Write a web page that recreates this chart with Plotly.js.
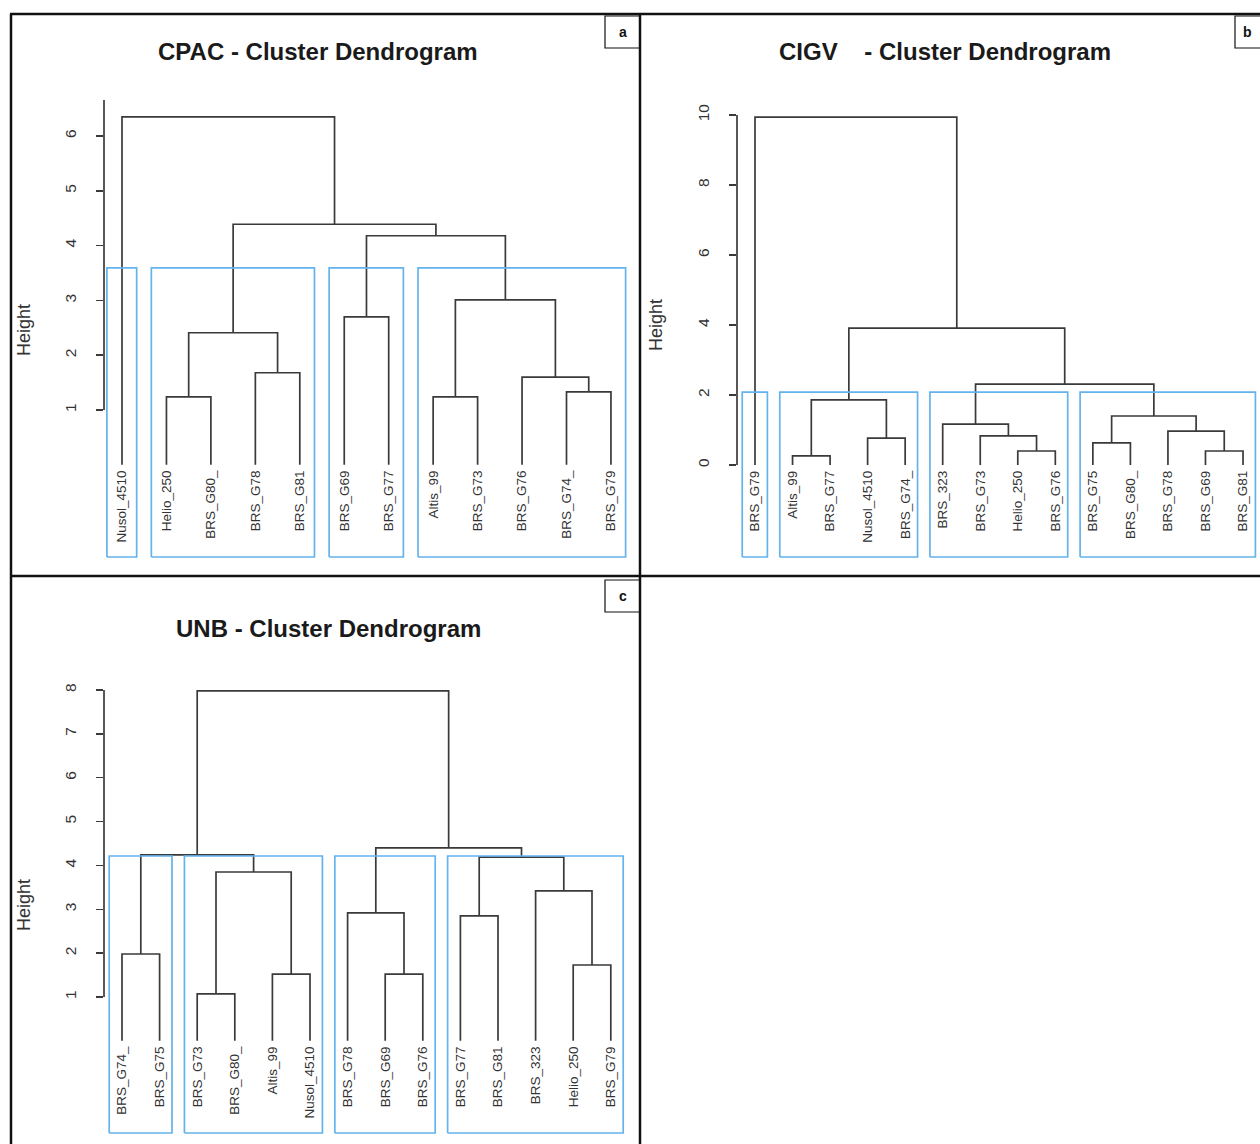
<!DOCTYPE html>
<html><head><meta charset="utf-8">
<script src="https://cdn.plot.ly/plotly-3.0.1.min.js"></script>
<style>html,body{margin:0;padding:0;background:#fff}</style>
</head><body><div id="chart" style="width:1260px;height:1144px"></div>
<script>
// ---------- DATA ----------
const cpacLabels = ["Nusol_4510","Helio_250","BRS_G80_","BRS_G78","BRS_G81","BRS_G69","BRS_G77","Altis_99","BRS_G73","BRS_G76","BRS_G74_","BRS_G79"];
const cpacMerge = [[-2,-3],[-8,-9],[-11,-12],[-10,3],[-4,-5],[1,5],[-6,-7],[2,4],[7,8],[6,9],[-1,10]];
const cpacHeights = [1.24,1.24,1.33,1.60,1.68,2.41,2.70,3.01,4.18,4.39,6.35];
const cpacTicks = [1,2,3,4,5,6];

const cigvLabels = ["BRS_G79","Altis_99","BRS_G77","Nusol_4510","BRS_G74_","BRS_323","BRS_G73","Helio_250","BRS_G76","BRS_G75","BRS_G80_","BRS_G78","BRS_G69","BRS_G81"];
const cigvMerge = [[-2,-3],[-8,-9],[-13,-14],[-10,-11],[-4,-5],[-7,2],[-12,3],[-6,6],[4,7],[1,5],[8,9],[10,11],[-1,12]];
const cigvHeights = [0.26,0.40,0.40,0.63,0.77,0.83,0.97,1.17,1.40,1.86,2.31,3.91,9.94];
const cigvTicks = [0,2,4,6,8,10];

const unbLabels = ["BRS_G74_","BRS_G75","BRS_G73","BRS_G80_","Altis_99","Nusol_4510","BRS_G78","BRS_G69","BRS_G76","BRS_G77","BRS_G81","BRS_323","Helio_250","BRS_G79"];
const unbMerge = [[-3,-4],[-5,-6],[-8,-9],[-13,-14],[-1,-2],[-10,-11],[-7,3],[-12,4],[1,2],[6,8],[5,9],[7,10],[11,12]];
const unbHeights = [1.07,1.52,1.52,1.73,1.98,2.85,2.92,3.42,3.85,4.19,4.24,4.40,7.98];
const unbTicks = [1,2,3,4,5,6,7,8];

const panelTitles = ["CPAC - Cluster Dendrogram","CIGV\u00a0\u00a0\u00a0\u00a0- Cluster Dendrogram","UNB - Cluster Dendrogram"];
const panelLetters = ["a","b","c"];
const axisTitle = "Height";
const clusterCount = 4;

// ---------- GEOMETRY (pixels) ----------
const W = 1260, H = 1144;
const panels = [
  {labels:cpacLabels, merge:cpacMerge, heights:cpacHeights, ticks:cpacTicks,
   g:{l:104, r:632, t:95, b:560, leaf0:122, dx:44.45, ya:[1,410], yb:[6,136], boxBottom:557, axisTop:100,
      title:[318,52], htitle:[24,330], letterBox:[605,640,16,48]}},
  {labels:cigvLabels, merge:cigvMerge, heights:cigvHeights, ticks:cigvTicks,
   g:{l:737, r:1260, t:95, b:560, leaf0:755, dx:37.54, ya:[0,465], yb:[10,115], boxBottom:557, axisTop:115,
      title:[945,52], htitle:[656,325], letterBox:[1235,1262,16,48]}},
  {labels:unbLabels, merge:unbMerge, heights:unbHeights, ticks:unbTicks,
   g:{l:104, r:632, t:660, b:1138, leaf0:122, dx:37.6, ya:[1,997], yb:[8,690], boxBottom:1133, axisTop:690,
      title:[328,628], htitle:[24,905], letterBox:[605,640,580,612]}}
];

const lineCol = '#3a3a3a', boxCol = '#63b3ec';
const traces = [], shapes = [], annotations = [];
const layout = {
  width:W, height:H, autosize:false, showlegend:false,
  margin:{l:0,r:0,t:0,b:0}, paper_bgcolor:'#fff', plot_bgcolor:'rgba(0,0,0,0)',
  font:{family:'Arial, Liberation Sans, sans-serif', color:'#222'}
};

panels.forEach((p, idx) => {
  const g = p.g, sfx = idx === 0 ? '' : String(idx + 1);
  const xa = 'x' + sfx, ya = 'y' + sfx;
  const ppv = (g.ya[1] - g.yb[1]) / (g.yb[0] - g.ya[0]);
  const val = px => g.ya[0] + (g.ya[1] - px) / ppv;
  const pxOf = v => g.ya[1] - (v - g.ya[0]) * ppv;

  // dendrogram nodes
  const nodes = [];
  const get = c => c < 0 ? {x: -c - 1, y: 0, lo: -c - 1, hi: -c - 1} : nodes[c - 1];
  const dx = [], dy = [];
  p.merge.forEach((m, i) => {
    const a = get(m[0]), b = get(m[1]), h = p.heights[i];
    dx.push(a.x, a.x, b.x, b.x, null);
    dy.push(a.y, h, h, b.y, null);
    nodes.push({x:(a.x + b.x) / 2, y:h, lo:Math.min(a.lo,b.lo), hi:Math.max(a.hi,b.hi), kids:m, idx:i});
  });
  traces.push({type:'scatter', mode:'lines', x:dx, y:dy, xaxis:xa, yaxis:ya,
    line:{color:lineCol, width:1.7}, hoverinfo:'skip'});

  // rect.hclust style boxes
  const nM = p.merge.length;
  const desc = p.heights.slice().sort((a,b) => b - a);
  const top = (desc[clusterCount - 2] + desc[clusterCount - 1]) / 2;
  const clusters = [];
  const walk = c => {
    const n = get(c);
    if (c > 0 && n.idx >= nM - (clusterCount - 1)) { walk(n.kids[0]); walk(n.kids[1]); }
    else clusters.push([n.lo, n.hi]);
  };
  walk(nM);
  clusters.sort((a,b) => a[0] - b[0]);
  const bx = [], by = [], bottom = val(g.boxBottom);
  clusters.forEach(c => {
    const x0 = c[0] - 0.34, x1 = c[1] + 0.33;
    bx.push(x0, x0, x1, x1, x0, null);
    by.push(bottom, top, top, bottom, bottom, null);
  });
  traces.push({type:'scatter', mode:'lines', x:bx, y:by, xaxis:xa, yaxis:ya,
    line:{color:boxCol, width:1.7}, hoverinfo:'skip'});

  // axes
  const n = p.labels.length;
  layout['xaxis' + sfx] = {
    domain:[g.l / W, g.r / W], range:[(g.l - g.leaf0) / g.dx, (g.r - g.leaf0) / g.dx],
    anchor:'free', position: 1 - (pxOf(0) + 2) / H,
    tickvals:[...Array(n).keys()], ticktext:p.labels, tickangle:-90, ticks:'',
    tickfont:{size:13.5, color:'#333'}, showgrid:false, zeroline:false, showline:false, fixedrange:true
  };
  layout['yaxis' + sfx] = {
    domain:[1 - g.b / H, 1 - g.t / H], range:[val(g.b), val(g.t)], anchor:xa,
    tickvals:p.ticks, ticks:'outside', ticklen:7, tickwidth:1.5, tickcolor:lineCol,
    tickangle:-90, tickfont:{size:15.5, color:'#333'}, ticklabelstandoff:14,
    showgrid:false, zeroline:false, showline:false, fixedrange:true
  };
  // y axis line (R style: spans tick range)
  shapes.push({type:'line', xref:'paper', yref:ya, x0:g.l / W, x1:g.l / W,
    y0:p.ticks[0], y1:val(g.axisTop), line:{color:lineCol, width:1.7}});

  // titles
  annotations.push({xref:'paper', yref:'paper', x:g.title[0] / W, y:1 - g.title[1] / H,
    text:'<b>' + panelTitles[idx] + '</b>', showarrow:false, xanchor:'center', yanchor:'middle',
    font:{size:24, color:'#1a1a1a'}});
  annotations.push({xref:'paper', yref:'paper', x:g.htitle[0] / W, y:1 - g.htitle[1] / H,
    text:axisTitle, textangle:-90, showarrow:false, xanchor:'center', yanchor:'middle',
    font:{size:18, color:'#333'}});

  // letter box
  const lb = g.letterBox;
  shapes.push({type:'rect', xref:'paper', yref:'paper', x0:lb[0] / W, x1:lb[1] / W,
    y0:1 - lb[3] / H, y1:1 - lb[2] / H, line:{color:'#111', width:1.2}});
  annotations.push({xref:'paper', yref:'paper', x:((lb[0] + Math.min(lb[1],1260)) / 2) / W, y:1 - ((lb[2] + lb[3]) / 2) / H,
    text:'<b>' + panelLetters[idx] + '</b>', showarrow:false, xanchor:'center', yanchor:'middle',
    font:{size:14, color:'#111'}});
});

// panel frames
const frame = [[10,14,1262,14],[11,14,11,1146],[640,14,640,1146],[10,576,1262,576]];
frame.forEach(f => shapes.push({type:'line', xref:'paper', yref:'paper',
  x0:f[0] / W, y0:1 - f[1] / H, x1:f[2] / W, y1:1 - f[3] / H, line:{color:'#111', width:2.5}}));

layout.shapes = shapes;
layout.annotations = annotations;
Plotly.newPlot('chart', traces, layout, {staticPlot:true, displayModeBar:false});
</script>
</body></html>
